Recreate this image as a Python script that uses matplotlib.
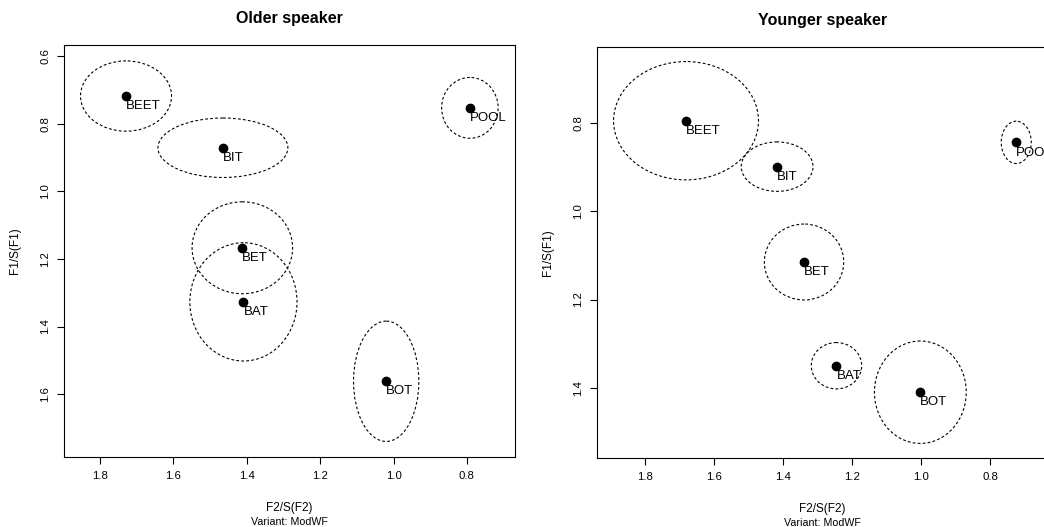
import matplotlib
matplotlib.use('Agg')
import matplotlib.pyplot as plt
from matplotlib.patches import Ellipse

plt.rcParams['font.family'] = ['Liberation Sans', 'DejaVu Sans']

vowels = ['BEET', 'BIT', 'BET', 'BAT', 'BOT', 'POOL']

# older speaker: means and ellipse half-axes (F2, F1)
old_f2 = [1.729, 1.465, 1.412, 1.409, 1.020, 0.792]
old_f1 = [0.718, 0.871, 1.167, 1.327, 1.562, 0.753]
old_w = [0.124, 0.177, 0.137, 0.146, 0.089, 0.077]
old_h = [0.104, 0.088, 0.136, 0.175, 0.178, 0.090]

# younger speaker
young_f2 = [1.682, 1.418, 1.340, 1.246, 1.003, 0.725]
young_f1 = [0.795, 0.899, 1.115, 1.350, 1.410, 0.844]
young_w = [0.210, 0.104, 0.115, 0.073, 0.133, 0.0435]
young_h = [0.134, 0.056, 0.086, 0.0525, 0.116, 0.048]

W, H = 1044, 527
fig = plt.figure(figsize=(W / 100, H / 100), dpi=100)


def panel(box, f2, f1, w, h, title, xlim, ylim, yticks):
    ax = fig.add_axes([box[0] / W, 1 - box[3] / H, (box[2] - box[0]) / W, (box[3] - box[1]) / H])
    for x, y, a, b, lab in zip(f2, f1, w, h, vowels):
        ax.add_patch(Ellipse((x, y), 2 * a, 2 * b, fill=False, ec='black', lw=0.8,
                             ls=(0, (2.5, 2))))
        ax.plot(x, y, 'o', color='black', ms=6)
        ax.annotate(lab, (x, y), xytext=(0, -3), textcoords='offset points',
                    ha='left', va='top', fontsize=9.5)
    ax.set_xlim(*xlim)
    ax.set_ylim(*ylim)
    ax.set_xticks([1.8, 1.6, 1.4, 1.2, 1.0, 0.8])
    ax.set_xticklabels(['1.8', '1.6', '1.4', '1.2', '1.0', '0.8'])
    ax.set_yticks(yticks)
    ax.set_yticklabels(['%.1f' % t for t in yticks], rotation=90, va='center')
    ax.tick_params(direction='out', length=5, width=0.8, labelsize=8.2, pad=5)
    for s in ax.spines.values():
        s.set_linewidth(0.8)
    ax.set_title(title, fontsize=11.5, fontweight='bold', pad=16)
    ax.set_xlabel('F2/S(F2)', fontsize=8.5, labelpad=15)
    ax.set_ylabel('F1/S(F1)', fontsize=8.5, labelpad=14)
    ax.text(0.5, -0.145, 'Variant: ModWF', transform=ax.transAxes, ha='center',
            va='top', fontsize=7.7)
    return ax


panel((64, 45, 515, 457), old_f2, old_f1, old_w, old_h, 'Older speaker',
      (1.898, 0.669), (1.786, 0.567), [0.6, 0.8, 1.0, 1.2, 1.4, 1.6])
panel((597, 47, 1048, 458), young_f2, young_f1, young_w, young_h, 'Younger speaker',
      (1.94, 0.633), (1.559, 0.628), [0.8, 1.0, 1.2, 1.4])

fig.savefig('out.png', dpi=100)
